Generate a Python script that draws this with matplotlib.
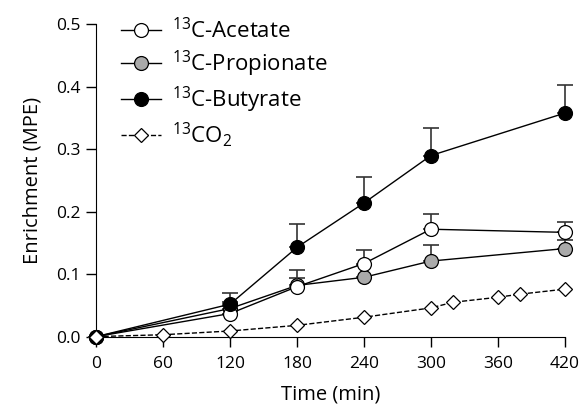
import numpy as np
from matplotlib import pyplot as plt

plt.rcParams['font.family'] = ['Open Sans', 'DejaVu Sans']
plt.rcParams['mathtext.default'] = 'regular'

# time points (min)
t = [0, 120, 180, 240, 300, 420]
t_co2 = [0, 60, 120, 180, 240, 300, 320, 360, 380, 420]

acetate = [0, 0.037, 0.080, 0.117, 0.172, 0.167]
acetate_err = [0, 0.012, 0.027, 0.021, 0.024, 0.017]
propionate = [0, 0.045, 0.082, 0.095, 0.121, 0.141]
propionate_err = [0, 0.010, 0.012, 0.020, 0.025, 0.014]
butyrate = [0, 0.052, 0.143, 0.214, 0.290, 0.358]
butyrate_err = [0, 0.018, 0.037, 0.041, 0.044, 0.045]
co2 = [0, 0.003, 0.009, 0.018, 0.031, 0.046, 0.055, 0.063, 0.068, 0.076]

xticks = [0, 60, 120, 180, 240, 300, 360, 420]
yticks = [0.0, 0.1, 0.2, 0.3, 0.4, 0.5]

fig = plt.figure(figsize=(5.87, 4.08), dpi=100)
ax = fig.add_axes([0.164, 0.175, 0.798, 0.765])

def series(x, y, err, fc, label, zo):
    ax.errorbar(x, y, yerr=[np.zeros(len(err)), err], fmt='none', ecolor='#333333',
                elinewidth=1.2, capsize=6, capthick=1.2, zorder=zo, clip_on=False)
    ax.plot(x, y, '-', color='black', lw=1.0, marker='o', ms=10, mfc=fc, mec='black',
            mew=0.9, label=label, zorder=zo + 0.5, clip_on=False)

series(t, propionate, propionate_err, '#aaaaaa', r'$^{13}$C-Propionate', 3)
series(t, acetate, acetate_err, 'white', r'$^{13}$C-Acetate', 4)
series(t, butyrate, butyrate_err, 'black', r'$^{13}$C-Butyrate', 5)
ax.plot(t_co2, co2, '--', color='black', lw=1.0, marker='D', ms=7, mfc='white',
        mec='black', mew=0.9, label=r'$^{13}$CO$_2$', zorder=6, clip_on=False)

ax.set_xlim(0, 420)
ax.set_ylim(0, 0.5)
ax.set_xticks(xticks)
ax.set_yticks(yticks)
ax.set_yticklabels(['%.1f' % v for v in yticks])
ax.spines['top'].set_visible(False)
ax.spines['right'].set_visible(False)
ax.tick_params(direction='out', length=7, width=1, labelsize=12.5)
ax.tick_params(axis='x', pad=7)
ax.tick_params(axis='y', pad=4)
ax.set_xlabel('Time (min)', fontsize=14.5, labelpad=9)
ax.set_ylabel('Enrichment (MPE)', fontsize=14.5, labelpad=10)

h, l = ax.get_legend_handles_labels()
order = [1, 0, 2, 3]
ax.legend([h[i] for i in order], [l[i] for i in order], loc='upper left',
          bbox_to_anchor=(0.01, 1.085), frameon=False, fontsize=16,
          handlelength=1.8, labelspacing=0.25, handletextpad=0.5)

fig.savefig('out.png', dpi=100)
